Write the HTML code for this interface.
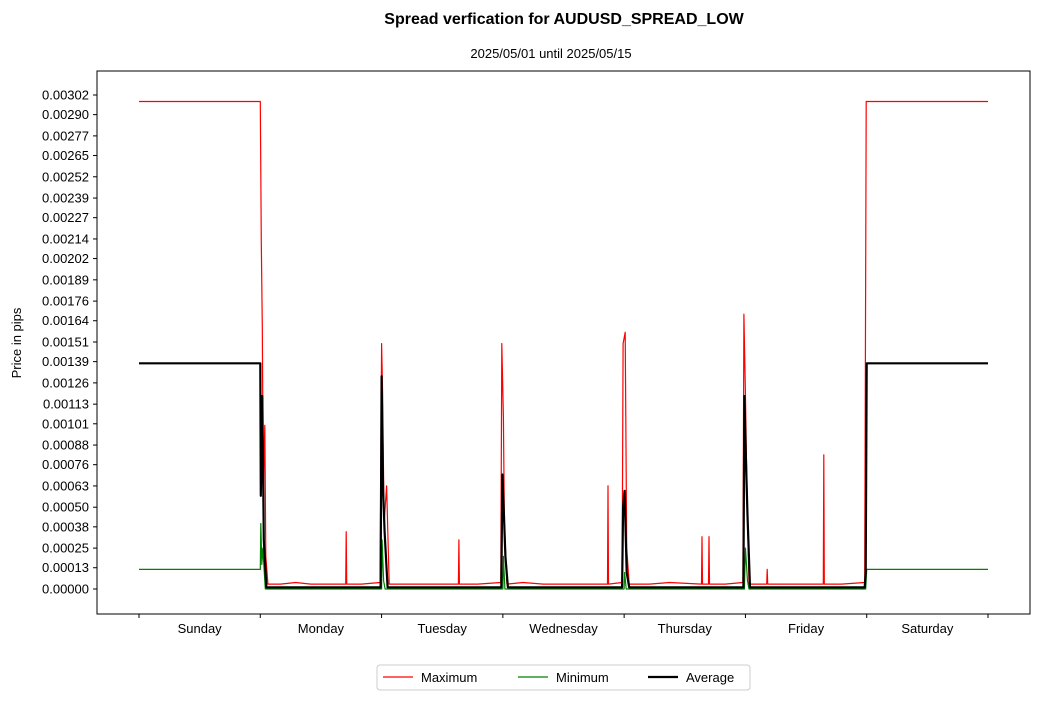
<!DOCTYPE html>
<html><head><meta charset="utf-8"><style>
body{margin:0;background:#fff;font-family:"Liberation Sans",sans-serif}
</style></head><body>
<svg id="chart" width="1039" height="700" xmlns="http://www.w3.org/2000/svg" font-family="Liberation Sans, sans-serif">
<text x="564" y="24" text-anchor="middle" font-size="16" font-weight="bold">Spread verfication for AUDUSD_SPREAD_LOW</text>
<text x="551" y="58" text-anchor="middle" font-size="13">2025/05/01 until 2025/05/15</text>
<rect x="97" y="71" width="933" height="543" fill="none" stroke="#000" stroke-width="1"/>
<text transform="translate(21,343) rotate(-90)" text-anchor="middle" font-size="13">Price in pips</text>
<g id="yaxis"></g>
<g id="xaxis"></g>
<g id="series"></g>
<g>
<rect x="377" y="665" width="373" height="25" rx="3" fill="#fff" stroke="#ccc"/>
<line x1="383" y1="677" x2="413" y2="677" stroke="red" stroke-width="1.2"/>
<text x="421" y="682" font-size="13">Maximum</text>
<line x1="518" y1="677" x2="548" y2="677" stroke="green" stroke-width="1.2"/>
<text x="556" y="682" font-size="13">Minimum</text>
<line x1="648" y1="677" x2="678" y2="677" stroke="#000" stroke-width="2.2"/>
<text x="686" y="682" font-size="13">Average</text>
</g>
</svg>
<script>
const dayLabels=["Sunday","Monday","Tuesday","Wednesday","Thursday","Friday","Saturday"];
const yTickValues=[0,0.00013,0.00025,0.00038,0.0005,0.00063,0.00076,0.00088,0.00101,0.00113,0.00126,0.00139,0.00151,0.00164,0.00176,0.00189,0.00202,0.00214,0.00227,0.00239,0.00252,0.00265,0.00277,0.0029,0.00302];
const yTickLabels=["0.00000","0.00013","0.00025","0.00038","0.00050","0.00063","0.00076","0.00088","0.00101","0.00113","0.00126","0.00139","0.00151","0.00164","0.00176","0.00189","0.00202","0.00214","0.00227","0.00239","0.00252","0.00265","0.00277","0.00290","0.00302"];
const maxHours=[0,24,24.2,24.4,24.6,24.9,25.1,25.5,28,31,34,37,40.9,41,41.1,44,47.7,48,48.2,48.5,49,49.5,53,57,60,63.2,63.3,63.4,67,71.6,71.8,72.1,72.3,72.8,76,80,84,88,92.7,92.8,92.9,95.6,95.8,96.2,96.5,97,101,105,111.3,111.4,111.5,112.7,112.8,112.9,116,119.5,119.7,120,120.3,120.7,124.2,124.3,124.4,128,132,135.4,135.5,135.6,139,143.6,143.9,168];
const maxValues=[0.00298,0.00298,0.00212,0.0016,0.0006,0.001,0.0002,0.00003,0.00003,0.00004,0.00003,0.00003,0.00003,0.00035,0.00003,0.00003,0.00004,0.0015,0.0012,0.0004,0.00063,0.00003,0.00003,0.00003,0.00003,0.00003,0.0003,0.00003,0.00003,0.00004,0.0015,0.00105,0.0004,0.00003,0.00004,0.00003,0.00003,0.00003,0.00003,0.00063,0.00003,0.00004,0.0015,0.00157,0.00025,0.00003,0.00003,0.00004,0.00003,0.00032,0.00003,0.00003,0.00032,0.00003,0.00003,0.00004,0.00168,0.0012,0.00063,0.00003,0.00003,0.00012,0.00003,0.00003,0.00003,0.00003,0.00082,0.00003,0.00003,0.00004,0.00298,0.00298];
const minHours=[0,24,24.1,24.3,24.5,25,48,48.1,48.4,48.7,72,72.1,72.4,96,96.1,96.4,119.8,120,120.4,120.7,143.8,144,168];
const minValues=[0.00012,0.00012,0.0004,0.00015,0.00025,0,0,0.0003,0.00005,0,0,0.0002,0,0,0.0001,0,0,0.00025,0.00005,0,0,0.00012,0.00012];
const avgHours=[0,24,24.1,24.4,24.7,25.2,47.8,48,48.3,48.6,49.2,71.7,71.9,72.2,72.5,73,95.6,95.8,96.1,96.5,97,119.6,119.8,120.1,120.4,120.9,143.6,143.8,144,168];
const avgValues=[0.00138,0.00138,0.00057,0.00118,0.0003,0.00001,0.00001,0.0013,0.0006,0.00035,0.00001,0.00001,0.0007,0.00046,0.0002,0.00001,0.00001,0.0005,0.0006,0.0001,0.00001,0.00001,0.00118,0.0008,0.00045,0.00001,0.00001,0.0001,0.00138,0.00138];

const NS="http://www.w3.org/2000/svg";
const X0=139,X1=988,Y0=589,Y1=95,VMAX=0.00302,HMAX=168;
const xs=h=>X0+h/HMAX*(X1-X0);
const ys=v=>Y0-v/VMAX*(Y0-Y1);
const yaxis=document.getElementById('yaxis'),xaxis=document.getElementById('xaxis'),series=document.getElementById('series');
yTickValues.forEach((v,i)=>{
  const y=ys(v);
  const t=document.createElementNS(NS,'line');
  t.setAttribute('x1',93);t.setAttribute('x2',97);t.setAttribute('y1',y);t.setAttribute('y2',y);t.setAttribute('stroke','#000');
  
  
  yaxis.appendChild(t);
  const l=document.createElementNS(NS,'text');
  l.setAttribute('x',89);l.setAttribute('y',y+4.5);l.setAttribute('text-anchor','end');l.setAttribute('font-size','13');
  l.textContent=yTickLabels[i];
  
  
  yaxis.appendChild(l);
});
for(let d=0;d<=7;d++){
  const x=xs(d*24);
  const t=document.createElementNS(NS,'line');
  t.setAttribute('x1',x);t.setAttribute('x2',x);t.setAttribute('y1',614);t.setAttribute('y2',618);t.setAttribute('stroke','#000');
  
  
  xaxis.appendChild(t);
}
dayLabels.forEach((n,i)=>{
  const l=document.createElementNS(NS,'text');
  l.setAttribute('x',xs(i*24+12));l.setAttribute('y',633);l.setAttribute('text-anchor','middle');l.setAttribute('font-size','13');
  l.textContent=n;
  
  
  xaxis.appendChild(l);
});
function line(hs,vs,color,w,name){
  const p=document.createElementNS(NS,'path');
  p.setAttribute('d',hs.map((h,i)=>(i?'L':'M')+xs(h).toFixed(1)+','+ys(vs[i]).toFixed(1)).join(''));
  p.setAttribute('fill','none');p.setAttribute('stroke',color);p.setAttribute('stroke-width',w);p.setAttribute('stroke-linejoin','round');
  
  
  series.appendChild(p);
}
line(maxHours,maxValues,'red',1.2,'maximum-line');
line(minHours,minValues,'green',1.2,'minimum-line');
line(avgHours,avgValues,'#000',2.2,'average-line');
</script>
</body></html>
